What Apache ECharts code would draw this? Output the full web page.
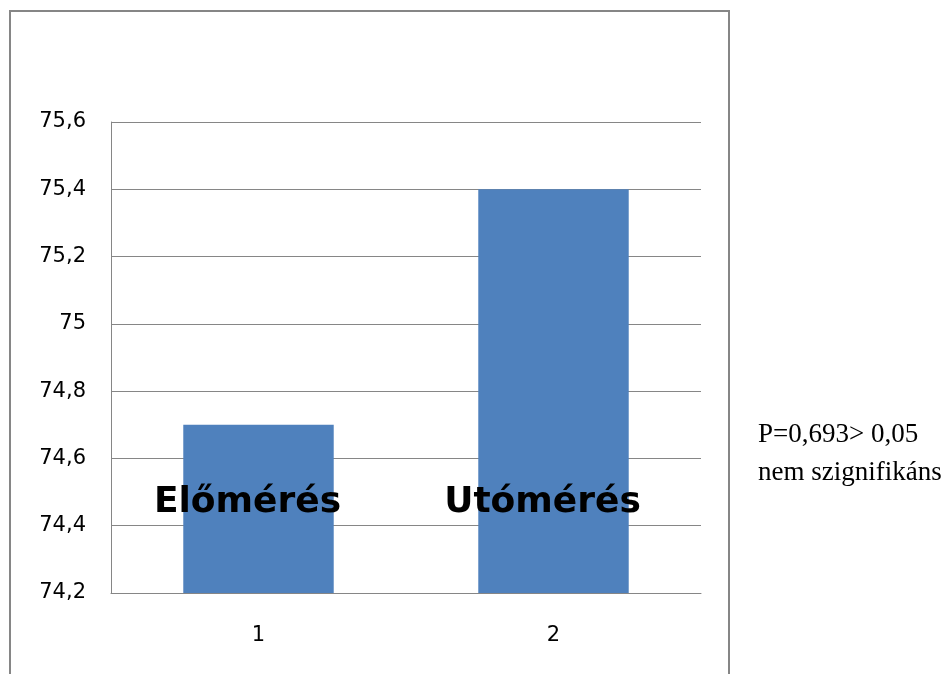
<!DOCTYPE html>
<html><head><meta charset="utf-8">
<script src="https://cdn.jsdelivr.net/npm/echarts@6/dist/echarts.min.js"></script>
<style>html,body{margin:0;padding:0;background:#fff}#c{width:952px;height:674px}</style>
</head><body><div id="c"></div>
<script>
const categories = ['1', '2'];
const values = [74.7, 75.4];
const barTexts = ['Előmérés', 'Utómérés'];
const yMin = 74.2, yMax = 75.6, yStep = 0.2;
const noteLines = ['P=0,693> 0,05', 'nem szignifikáns'];

const chart = echarts.init(document.getElementById('c'), null, {renderer: 'canvas'});
const fmt = v => String(Number(v.toFixed(1))).replace('.', ',');
const axisFont = 'DejaVu Sans, Noto Sans, sans-serif';
chart.setOption({
  animation: false,
  backgroundColor: '#fff',
  grid: {left: 111, right: 251, top: 122, bottom: 81, containLabel: false},
  xAxis: {
    type: 'category', data: categories,
    axisTick: {show: false},
    axisLine: {lineStyle: {color: '#868686', width: 1}},
    axisLabel: {color: '#000', fontSize: 21, margin: 32, fontFamily: axisFont}
  },
  yAxis: {
    type: 'value', min: yMin, max: yMax, interval: yStep,
    axisLine: {show: true, lineStyle: {color: '#868686', width: 1}},
    axisTick: {show: false},
    splitLine: {lineStyle: {color: '#868686', width: 1}},
    axisLabel: {color: '#000', fontSize: 21, margin: 25, formatter: fmt, fontFamily: axisFont}
  },
  series: [{
    type: 'bar', data: values, barWidth: '51%',
    itemStyle: {color: '#4F81BD'},
    label: {
      show: true, position: 'insideBottom', distance: 72, offset: [-11, 0],
      formatter: p => barTexts[p.dataIndex],
      color: '#000', fontSize: 36, fontWeight: 'bold', fontFamily: 'DejaVu Sans, sans-serif'
    }
  }],
  graphic: [
    {type: 'rect', shape: {x: 10, y: 11, width: 719, height: 700}, style: {fill: 'none', stroke: '#868686', lineWidth: 2}, silent: true},
    {type: 'text', x: 758, y: 435, style: {text: noteLines[0], font: '27px "Liberation Serif", serif', fill: '#000', verticalAlign: 'middle'}},
    {type: 'text', x: 758, y: 473, style: {text: noteLines[1], font: '27px "Liberation Serif", serif', fill: '#000', verticalAlign: 'middle'}}
  ]
});
</script></body></html>
